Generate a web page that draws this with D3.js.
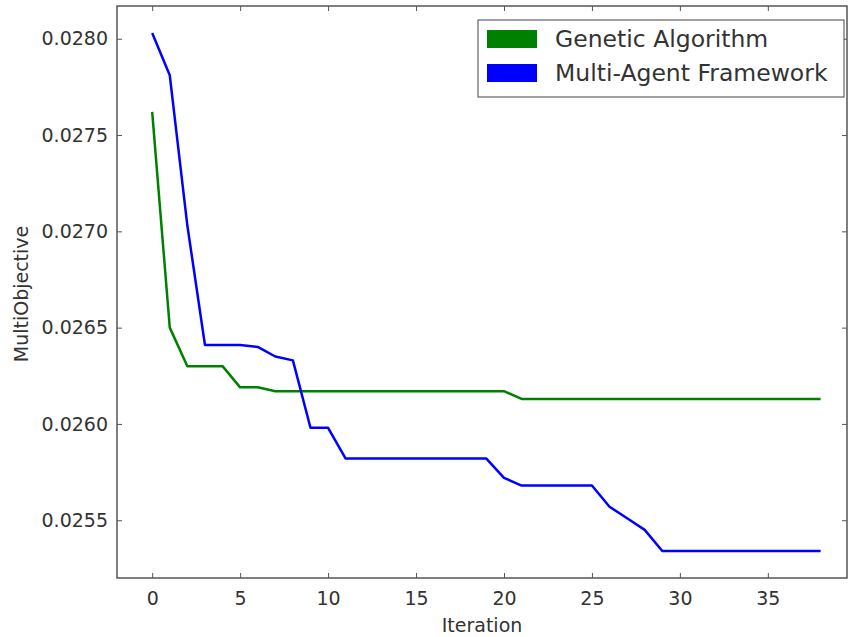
<!DOCTYPE html>
<html>
<head>
<meta charset="utf-8">
<script src="https://cdn.jsdelivr.net/npm/d3@7"></script>
<style>
  body { margin: 0; background: #fff; }
  text { font-family: "DejaVu Sans", sans-serif; fill: #333; }
</style>
</head>
<body>
<svg id="chart" width="850" height="637"></svg>
<script>
// iteration index 0..38
let iterations = d3.range(0, 39);

// Genetic Algorithm objective per iteration
let gaValues = [
  0.02762, 0.02650, 0.02630, 0.02630, 0.02630, 0.02619, 0.02619, 0.02617, 0.02617, 0.02617,
  0.02617, 0.02617, 0.02617, 0.02617, 0.02617, 0.02617, 0.02617, 0.02617, 0.02617, 0.02617,
  0.02617, 0.02613, 0.02613, 0.02613, 0.02613, 0.02613, 0.02613, 0.02613, 0.02613, 0.02613,
  0.02613, 0.02613, 0.02613, 0.02613, 0.02613, 0.02613, 0.02613, 0.02613, 0.02613
];

// Multi-Agent Framework objective per iteration
let mafValues = [
  0.02803, 0.02781, 0.02703, 0.02641, 0.02641, 0.02641, 0.02640, 0.02635, 0.02633, 0.02598,
  0.02598, 0.02582, 0.02582, 0.02582, 0.02582, 0.02582, 0.02582, 0.02582, 0.02582, 0.02582,
  0.02572, 0.02568, 0.02568, 0.02568, 0.02568, 0.02568, 0.02557, 0.02551, 0.02545, 0.02534,
  0.02534, 0.02534, 0.02534, 0.02534, 0.02534, 0.02534, 0.02534, 0.02534, 0.02534
];

let seriesNames = ["Genetic Algorithm", "Multi-Agent Framework"];
let seriesColors = ["#008000", "#0000ff"];

let xTicks = [0, 5, 10, 15, 20, 25, 30, 35];
let yTicks = [0.0255, 0.0260, 0.0265, 0.0270, 0.0275, 0.0280];

let plotLeft = 117, plotRight = 847, plotTop = 6, plotBottom = 578;

let svg = d3.select("#chart");

let x = d3.scaleLinear().domain([-2, 39.5]).range([plotLeft, plotRight]);
let y = d3.scaleLinear().domain([0.0252, 0.02817]).range([plotBottom, plotTop]);

// axes: ticks point inward, on all four sides
let fmt = d3.format(".4f");
let axisColor = "#555";

let gx = svg.append("g").attr("transform", "translate(0," + plotBottom + ")")
  .call(d3.axisBottom(x).tickValues(xTicks).tickSizeInner(-5).tickSizeOuter(0).tickPadding(14));
let gxTop = svg.append("g").attr("transform", "translate(0," + plotTop + ")")
  .call(d3.axisTop(x).tickValues(xTicks).tickSizeInner(-5).tickSizeOuter(0).tickFormat(""));
let gy = svg.append("g").attr("transform", "translate(" + plotLeft + ",0)")
  .call(d3.axisLeft(y).tickValues(yTicks).tickSizeInner(-5).tickSizeOuter(0).tickPadding(9).tickFormat(fmt));
let gyRight = svg.append("g").attr("transform", "translate(" + plotRight + ",0)")
  .call(d3.axisRight(y).tickValues(yTicks).tickSizeInner(-5).tickSizeOuter(0).tickFormat(""));

[gx, gxTop, gy, gyRight].forEach(function(g) {
  g.select(".domain").remove();
  g.selectAll("line").attr("stroke", axisColor).attr("stroke-width", 1);
  g.selectAll("text").attr("fill", "#333").style("font-size", "19px").style("font-family", "DejaVu Sans");
});

// frame
svg.append("rect")
  .attr("x", plotLeft).attr("y", plotTop)
  .attr("width", plotRight - plotLeft).attr("height", plotBottom - plotTop)
  .attr("fill", "none").attr("stroke", axisColor).attr("stroke-width", 1.5);

// lines
let line = d3.line().x(function(d, i) { return x(iterations[i]); }).y(function(d) { return y(d); });

[gaValues, mafValues].forEach(function(vals, k) {
  svg.append("path")
    .datum(vals)
    .attr("d", line)
    .attr("fill", "none")
    .attr("stroke", seriesColors[k])
    .attr("stroke-width", 2.5)
    .attr("stroke-linejoin", "round");
});

// axis labels
svg.append("text")
  .attr("x", (plotLeft + plotRight) / 2).attr("y", 632)
  .attr("text-anchor", "middle")
  .style("font-size", "19px")
  .text("Iteration");

svg.append("text")
  .attr("transform", "translate(28,294) rotate(-90)")
  .attr("text-anchor", "middle")
  .style("font-size", "19px")
  .text("MultiObjective");

// legend
let legend = svg.append("g");
legend.append("rect")
  .attr("x", 478).attr("y", 20).attr("width", 366).attr("height", 77)
  .attr("fill", "#fff").attr("stroke", "#444").attr("stroke-width", 1);

seriesNames.forEach(function(name, i) {
  let ly = 30 + i * 34;
  legend.append("rect")
    .attr("x", 487).attr("y", ly).attr("width", 50).attr("height", 18)
    .attr("fill", seriesColors[i]);
  legend.append("text")
    .attr("x", 555).attr("y", ly + 17)
    .style("font-size", "23.5px")
    .text(name);
});
</script>
</body>
</html>
